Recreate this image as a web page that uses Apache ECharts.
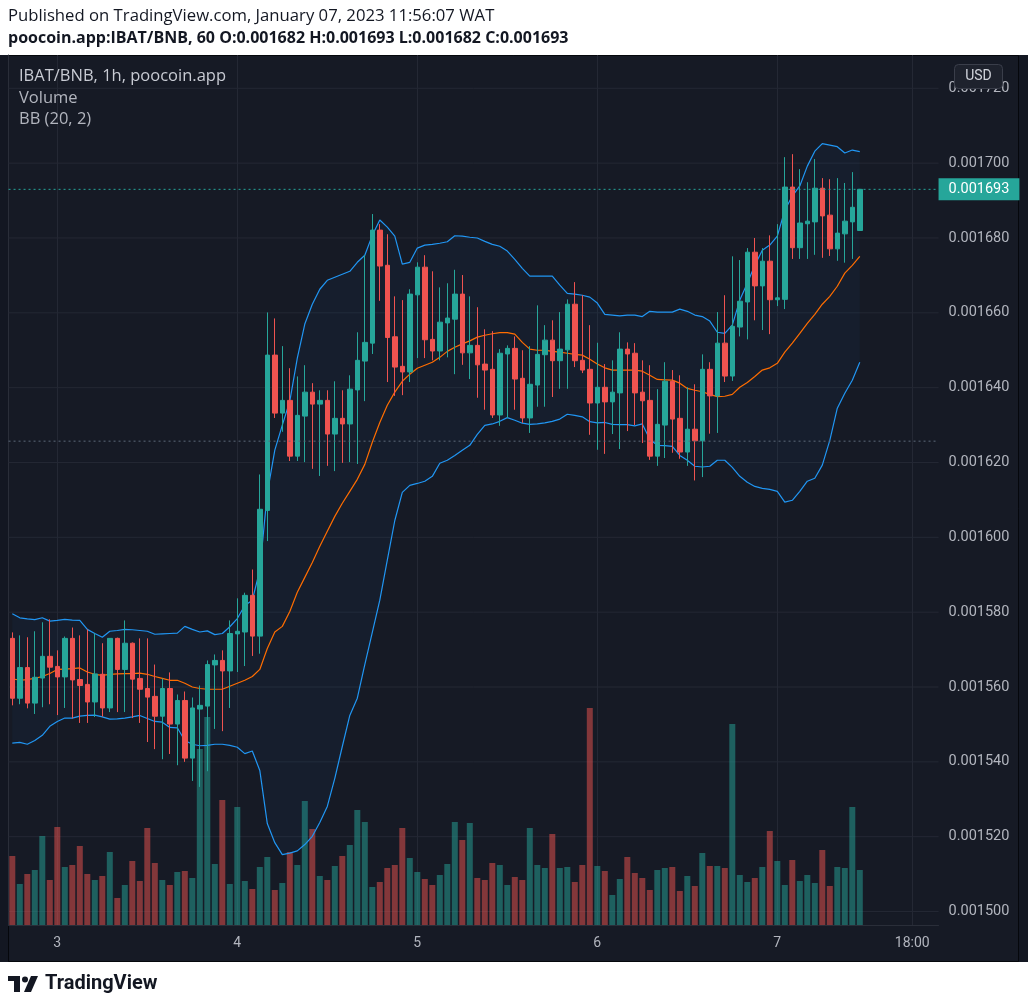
<!DOCTYPE html>
<html><head><meta charset="utf-8">
<script src="https://cdn.jsdelivr.net/npm/echarts@6/dist/echarts.min.js"></script>
<style>html,body{margin:0;padding:0;background:#fff}#c{width:1028px;height:1007px}</style>
</head><body><div id="c"></div>
<script>
// ---- data (BNB prices, hourly candles from Jan 2 18:00) ----
const opens = [
0.0015730,0.0015570,0.0015652,0.0015557,0.0015624,0.0015682,0.0015655,0.0015627,0.0015730,0.0015620,
0.0015607,0.0015560,0.0015634,0.0015544,0.0015730,0.0015647,0.0015717,0.0015623,0.0015596,0.0015575,
0.0015522,0.0015596,0.0015501,0.0015564,0.0015410,0.0015541,0.0015549,0.0015659,0.0015671,0.0015643,
0.0015742,0.0015747,0.0015845,0.0015736,0.0016072,0.0016487,0.0016332,0.0016366,0.0016217,0.0016324,
0.0016388,0.0016356,0.0016366,0.0016276,0.0016318,0.0016303,0.0016394,0.0016471,0.0016519,0.0016821,
0.0016727,0.0016536,0.0016457,0.0016442,0.0016648,0.0016722,0.0016529,0.0016498,0.0016573,0.0016583,
0.0016650,0.0016493,0.0016513,0.0016463,0.0016449,0.0016327,0.0016490,0.0016505,0.0016425,0.0016319,
0.0016407,0.0016488,0.0016527,0.0016472,0.0016501,0.0016623,0.0016473,0.0016449,0.0016359,0.0016401,
0.0016362,0.0016386,0.0016503,0.0016492,0.0016388,0.0016366,0.0016217,0.0016300,0.0016417,0.0016318,
0.0016228,0.0016289,0.0016258,0.0016449,0.0016378,0.0016519,0.0016431,0.0016562,0.0016629,0.0016762,
0.0016672,0.0016738,0.0016635,0.0016636,0.0016936,0.0016774,0.0016838,0.0016843,0.0016933,0.0016861,
0.0016771,0.0016811,0.0016843,0.0016820];
const closes = [
0.0015570,0.0015652,0.0015557,0.0015626,0.0015682,0.0015653,0.0015627,0.0015730,0.0015619,0.0015604,
0.0015560,0.0015635,0.0015544,0.0015730,0.0015647,0.0015717,0.0015621,0.0015594,0.0015573,0.0015522,
0.0015596,0.0015501,0.0015564,0.0015410,0.0015544,0.0015551,0.0015660,0.0015671,0.0015643,0.0015743,
0.0015749,0.0015845,0.0015736,0.0016075,0.0016487,0.0016332,0.0016366,0.0016217,0.0016326,0.0016388,
0.0016356,0.0016366,0.0016276,0.0016318,0.0016303,0.0016396,0.0016473,0.0016521,0.0016821,0.0016725,
0.0016534,0.0016455,0.0016442,0.0016650,0.0016722,0.0016528,0.0016498,0.0016575,0.0016586,0.0016650,
0.0016493,0.0016513,0.0016461,0.0016447,0.0016327,0.0016492,0.0016505,0.0016423,0.0016319,0.0016409,
0.0016489,0.0016527,0.0016472,0.0016503,0.0016623,0.0016472,0.0016447,0.0016359,0.0016401,0.0016362,
0.0016388,0.0016503,0.0016490,0.0016386,0.0016365,0.0016217,0.0016302,0.0016417,0.0016316,0.0016228,
0.0016289,0.0016258,0.0016449,0.0016378,0.0016519,0.0016431,0.0016564,0.0016631,0.0016762,0.0016672,
0.0016738,0.0016635,0.0016640,0.0016936,0.0016774,0.0016840,0.0016845,0.0016933,0.0016859,0.0016771,
0.0016813,0.0016845,0.0016882,0.0016930];
const highs = [
0.0015746,0.0015738,0.0015733,0.0015749,0.0015773,0.0015781,0.0015698,0.0015735,0.0015759,0.0015738,
0.0015754,0.0015743,0.0015717,0.0015730,0.0015732,0.0015778,0.0015719,0.0015730,0.0015730,0.0015660,
0.0015623,0.0015639,0.0015580,0.0015588,0.0015572,0.0015604,0.0015671,0.0015687,0.0015698,0.0015778,
0.0015837,0.0015852,0.0015914,0.0016168,0.0016601,0.0016585,0.0016511,0.0016452,0.0016430,0.0016460,
0.0016412,0.0016393,0.0016393,0.0016417,0.0016393,0.0016433,0.0016548,0.0016754,0.0016864,0.0016837,
0.0016810,0.0016644,0.0016634,0.0016663,0.0016735,0.0016754,0.0016711,0.0016668,0.0016679,0.0016715,
0.0016701,0.0016644,0.0016615,0.0016556,0.0016551,0.0016503,0.0016513,0.0016537,0.0016500,0.0016511,
0.0016620,0.0016567,0.0016580,0.0016602,0.0016636,0.0016682,0.0016647,0.0016567,0.0016520,0.0016463,
0.0016473,0.0016548,0.0016521,0.0016519,0.0016473,0.0016460,0.0016396,0.0016468,0.0016447,0.0016433,
0.0016401,0.0016409,0.0016489,0.0016468,0.0016602,0.0016647,0.0016751,0.0016741,0.0016773,0.0016800,
0.0016773,0.0016807,0.0016837,0.0017016,0.0017024,0.0016984,0.0016949,0.0017011,0.0016960,0.0016957,
0.0016960,0.0016947,0.0016976,0.0016930];
const lows = [
0.0015551,0.0015554,0.0015543,0.0015528,0.0015546,0.0015554,0.0015525,0.0015544,0.0015516,0.0015504,
0.0015504,0.0015520,0.0015521,0.0015533,0.0015533,0.0015533,0.0015517,0.0015504,0.0015453,0.0015434,
0.0015407,0.0015421,0.0015391,0.0015400,0.0015349,0.0015333,0.0015375,0.0015488,0.0015482,0.0015544,
0.0015640,0.0015656,0.0015683,0.0015689,0.0015990,0.0016319,0.0016282,0.0016204,0.0016204,0.0016201,
0.0016183,0.0016164,0.0016191,0.0016177,0.0016199,0.0016201,0.0016196,0.0016364,0.0016490,0.0016632,
0.0016415,0.0016378,0.0016380,0.0016415,0.0016479,0.0016479,0.0016473,0.0016473,0.0016481,0.0016436,
0.0016461,0.0016423,0.0016373,0.0016341,0.0016319,0.0016298,0.0016319,0.0016341,0.0016306,0.0016279,
0.0016349,0.0016349,0.0016375,0.0016397,0.0016397,0.0016455,0.0016439,0.0016274,0.0016234,0.0016223,
0.0016276,0.0016236,0.0016284,0.0016300,0.0016252,0.0016207,0.0016191,0.0016212,0.0016226,0.0016210,
0.0016191,0.0016152,0.0016161,0.0016277,0.0016279,0.0016415,0.0016418,0.0016537,0.0016529,0.0016580,
0.0016554,0.0016543,0.0016618,0.0016610,0.0016744,0.0016744,0.0016744,0.0016755,0.0016747,0.0016752,
0.0016739,0.0016734,0.0016744,0.0016820];
const volumes = [
207,123,153,165,267,135,294,174,180,237,153,135,147,219,81,120,192,132,291,186,
135,120,159,162,141,528,624,183,375,123,354,132,108,174,204,105,126,219,180,372,
288,147,135,177,207,240,345,309,114,129,171,180,291,201,159,138,120,150,183,309,
255,306,141,135,186,180,120,144,135,291,180,171,273,171,174,129,180,651,177,162,
90,138,204,156,141,105,165,171,174,102,147,117,216,177,177,171,603,150,129,141,
174,282,192,120,195,132,150,126,225,117,174,171,354,165];
const bbUpper = [
0.0015796,0.0015785,0.0015782,0.0015780,0.0015785,0.0015776,0.0015778,0.0015781,0.0015779,0.0015778,
0.0015754,0.0015743,0.0015733,0.0015749,0.0015751,0.0015754,0.0015753,0.0015751,0.0015749,0.0015741,
0.0015742,0.0015743,0.0015744,0.0015762,0.0015754,0.0015747,0.0015750,0.0015740,0.0015743,0.0015761,
0.0015783,0.0015818,0.0015832,0.0015912,0.0016118,0.0016233,0.0016300,0.0016364,0.0016479,0.0016570,
0.0016623,0.0016663,0.0016687,0.0016695,0.0016703,0.0016711,0.0016735,0.0016754,0.0016807,0.0016848,
0.0016829,0.0016805,0.0016730,0.0016735,0.0016773,0.0016781,0.0016783,0.0016786,0.0016790,0.0016806,
0.0016805,0.0016802,0.0016800,0.0016791,0.0016783,0.0016778,0.0016765,0.0016743,0.0016719,0.0016698,
0.0016698,0.0016698,0.0016698,0.0016674,0.0016652,0.0016650,0.0016647,0.0016642,0.0016626,0.0016596,
0.0016594,0.0016592,0.0016594,0.0016594,0.0016590,0.0016604,0.0016602,0.0016602,0.0016602,0.0016610,
0.0016604,0.0016594,0.0016590,0.0016578,0.0016548,0.0016545,0.0016567,0.0016634,0.0016679,0.0016727,
0.0016767,0.0016781,0.0016805,0.0016874,0.0016912,0.0016939,0.0016992,0.0017032,0.0017052,0.0017048,
0.0017044,0.0017027,0.0017035,0.0017031];
const bbBasis = [
0.0015622,0.0015618,0.0015620,0.0015623,0.0015628,0.0015636,0.0015647,0.0015648,0.0015649,0.0015651,
0.0015640,0.0015634,0.0015631,0.0015634,0.0015635,0.0015636,0.0015636,0.0015637,0.0015634,0.0015628,
0.0015623,0.0015618,0.0015618,0.0015610,0.0015600,0.0015596,0.0015594,0.0015594,0.0015594,0.0015602,
0.0015610,0.0015618,0.0015628,0.0015647,0.0015703,0.0015747,0.0015762,0.0015802,0.0015853,0.0015893,
0.0015933,0.0015976,0.0016016,0.0016056,0.0016091,0.0016123,0.0016155,0.0016195,0.0016254,0.0016307,
0.0016353,0.0016388,0.0016417,0.0016436,0.0016452,0.0016460,0.0016468,0.0016481,0.0016497,0.0016508,
0.0016517,0.0016525,0.0016535,0.0016540,0.0016544,0.0016547,0.0016547,0.0016543,0.0016521,0.0016503,
0.0016500,0.0016500,0.0016497,0.0016495,0.0016492,0.0016489,0.0016487,0.0016476,0.0016463,0.0016453,
0.0016447,0.0016447,0.0016447,0.0016447,0.0016444,0.0016433,0.0016422,0.0016421,0.0016420,0.0016412,
0.0016398,0.0016393,0.0016389,0.0016382,0.0016376,0.0016377,0.0016382,0.0016401,0.0016414,0.0016430,
0.0016447,0.0016453,0.0016465,0.0016495,0.0016519,0.0016545,0.0016572,0.0016596,0.0016623,0.0016644,
0.0016671,0.0016706,0.0016727,0.0016751];
const bbLower = [
0.0015450,0.0015452,0.0015447,0.0015457,0.0015471,0.0015495,0.0015508,0.0015517,0.0015517,0.0015522,
0.0015524,0.0015525,0.0015520,0.0015514,0.0015515,0.0015517,0.0015520,0.0015524,0.0015516,0.0015508,
0.0015506,0.0015492,0.0015491,0.0015457,0.0015447,0.0015443,0.0015444,0.0015447,0.0015447,0.0015444,
0.0015439,0.0015422,0.0015429,0.0015377,0.0015235,0.0015184,0.0015152,0.0015156,0.0015162,0.0015179,
0.0015201,0.0015238,0.0015281,0.0015356,0.0015441,0.0015524,0.0015570,0.0015660,0.0015746,0.0015832,
0.0015939,0.0016045,0.0016120,0.0016139,0.0016144,0.0016150,0.0016163,0.0016198,0.0016206,0.0016219,
0.0016233,0.0016246,0.0016275,0.0016299,0.0016303,0.0016310,0.0016320,0.0016313,0.0016305,0.0016302,
0.0016303,0.0016306,0.0016310,0.0016316,0.0016329,0.0016326,0.0016322,0.0016309,0.0016306,0.0016307,
0.0016302,0.0016301,0.0016301,0.0016298,0.0016303,0.0016262,0.0016246,0.0016245,0.0016243,0.0016219,
0.0016206,0.0016190,0.0016188,0.0016190,0.0016206,0.0016206,0.0016187,0.0016163,0.0016147,0.0016136,
0.0016131,0.0016128,0.0016123,0.0016094,0.0016099,0.0016123,0.0016150,0.0016158,0.0016193,0.0016259,
0.0016345,0.0016385,0.0016420,0.0016468];
const yTicks = [0.00150,0.00152,0.00154,0.00156,0.00158,0.00160,0.00162,0.00164,0.00166,0.00168,0.00170,0.00172];
const xTickCats = ['1/3 00:00','1/4 00:00','1/5 00:00','1/6 00:00','1/7 00:00','1/7 18:00'];
const xTickLabels = ['3','4','5','6','7','18:00'];
const lastPrice = 0.001693;
const refPrice = 0.0016257;

// hourly category slots (data + empty future slots up to the right edge)
const categories = [];
const t0 = Date.UTC(2023, 0, 2, 18);
for (let i = 0; i < 124; i++) {
  const d = new Date(t0 + i * 3600000);
  categories.push((d.getUTCMonth() + 1) + '/' + d.getUTCDate() + ' ' + String(d.getUTCHours()).padStart(2, '0') + ':00');
}

const candleData = opens.map((o, i) => [o, closes[i], lows[i], highs[i]]);
const volData = volumes.map((v, i) => ({
  value: v,
  itemStyle: { color: closes[i] >= opens[i] ? 'rgba(38,166,154,0.5)' : 'rgba(239,83,80,0.5)' }
}));
const bbWidth = bbUpper.map((u, i) => u - bbLower[i]);

const FONT = 'Roboto, "Open Sans", sans-serif';
const TFONT = '"Open Sans", Roboto, sans-serif';

// horizontal price grid lines (on a hidden 0..1 value x axis spanning the full grid width)
const priceGridSeries = yTicks.map(v => ({
  type: 'line', xAxisIndex: 2, yAxisIndex: 0, data: [[0, v], [1, v]], symbol: 'none', silent: true, z: 0,
  lineStyle: { color: '#242834', width: 1 },
  endLabel: { show: true, distance: 10, color: '#b2b5be', fontSize: 14.5, fontFamily: FONT, formatter: () => v.toFixed(6) }
}));

const chart = echarts.init(document.getElementById('c'));
chart.setOption({
  animation: false,
  backgroundColor: '#ffffff',
  grid: [
    { left: 8.55, right: 89.45, top: 55, bottom: 82 },
    { left: 8.55, right: 89.45, bottom: 82, height: 300 }
  ],
  xAxis: [
    { type: 'category', data: categories, gridIndex: 0, boundaryGap: true,
      axisLine: { show: true, lineStyle: { color: '#2a2e39' } },
      axisTick: { show: false },
      splitLine: { show: false },
      axisLabel: { color: '#b2b5be', fontSize: 14, fontFamily: FONT, margin: 11,
        interval: (i, v) => xTickCats.indexOf(v) >= 0,
        formatter: v => { const k = xTickCats.indexOf(v); return k >= 0 ? xTickLabels[k] : ''; } } },
    { type: 'category', data: categories, gridIndex: 1, boundaryGap: true, show: false },
    { type: 'value', gridIndex: 0, min: 0, max: 1, show: false, splitLine: { show: false } }
  ],
  yAxis: [
    { type: 'value', gridIndex: 0, position: 'right', min: 0.0014964, max: 0.0017289, scale: true,
      axisLine: { show: true, lineStyle: { color: '#2a2e39' } },
      axisTick: { show: false }, axisLabel: { show: false }, splitLine: { show: false } },
    { type: 'value', gridIndex: 1, min: 0, max: 900, show: false, splitLine: { show: false } }
  ],
  graphic: [
    { type: 'rect', z: -20, silent: true, shape: { x: 0, y: 55, width: 1028, height: 907 }, style: { fill: '#131722' } },
    { type: 'rect', z: -19, silent: true, shape: { x: 8.5, y: 55.5, width: 1010, height: 906 }, style: { fill: '#161a25', stroke: '#05070c', lineWidth: 1 } },
    { type: 'text', z: 50, style: { text: 'Published on TradingView.com, January 07, 2023 11:56:07 WAT', x: 8, y: 16, fill: '#131722', font: '16.7px ' + TFONT, textVerticalAlign: 'middle' } },
    { type: 'text', z: 50, style: { text: 'poocoin.app:IBAT/BNB, 60 O:0.001682 H:0.001693 L:0.001682 C:0.001693', x: 8, y: 38, fill: '#131722', font: 'bold 16px ' + TFONT, textVerticalAlign: 'middle' } },
    { type: 'text', z: 50, style: { text: 'IBAT/BNB, 1h, poocoin.app', x: 19, y: 76, fill: '#c8cbd3', font: '16.5px ' + TFONT, textVerticalAlign: 'middle' } },
    { type: 'text', z: 50, style: { text: 'Volume', x: 19, y: 98, fill: '#b2b5be', font: '16.5px ' + TFONT, textVerticalAlign: 'middle' } },
    { type: 'text', z: 50, style: { text: 'BB (20, 2)', x: 19, y: 119, fill: '#b2b5be', font: '16.5px ' + TFONT, textVerticalAlign: 'middle' } },
    { type: 'rect', z: 50, shape: { x: 954.5, y: 64.5, width: 48, height: 24, r: 4 }, style: { fill: '#1e222d', stroke: '#3a3e4a', lineWidth: 1 } },
    { type: 'text', z: 51, style: { text: 'USD', x: 978.5, y: 76.5, fill: '#d1d4dc', font: '14px ' + FONT, textAlign: 'center', textVerticalAlign: 'middle' } },
    { type: 'rect', z: 50, shape: { x: 8, y: 976, width: 12, height: 5 }, style: { fill: '#131722' } },
    { type: 'rect', z: 50, shape: { x: 14, y: 976, width: 6, height: 16 }, style: { fill: '#131722' } },
    { type: 'circle', z: 50, shape: { cx: 25, cy: 979.5, r: 3 }, style: { fill: '#131722' } },
    { type: 'polygon', z: 50, shape: { points: [[31, 976], [38, 976], [31, 992], [24, 992]] }, style: { fill: '#131722' } },
    { type: 'text', z: 50, style: { text: 'TradingView', x: 45, y: 984, fill: '#131722', font: 'bold 20px ' + FONT, textVerticalAlign: 'middle' } }
  ],
  series: priceGridSeries.concat([
    { name: 'Volume', type: 'bar', xAxisIndex: 1, yAxisIndex: 1, data: volData, barWidth: '80%', z: 1, silent: true },
    { name: 'BB lower', type: 'line', stack: 'bb', data: bbLower, symbol: 'none', z: 2, silent: true,
      lineStyle: { color: '#2196f3', width: 1.2 },
      markLine: { silent: true, z: 0, symbol: ['none', 'none'], animation: false,
        lineStyle: { color: '#242834', width: 1, type: 'solid' },
        label: { show: false },
        emphasis: { disabled: true },
        data: xTickCats.map(c => ({ xAxis: c })) } },
    { name: 'BB upper', type: 'line', stack: 'bb', data: bbWidth, symbol: 'none', z: 2, silent: true,
      lineStyle: { color: '#2196f3', width: 1.2 },
      areaStyle: { color: 'rgba(33,150,243,0.06)' } },
    { name: 'BB basis', type: 'line', data: bbBasis, symbol: 'none', z: 2, silent: true,
      lineStyle: { color: '#ff6d00', width: 1.2 } },
    { name: 'IBAT/BNB', type: 'candlestick', data: candleData, barWidth: 5, z: 3, silent: true,
      itemStyle: { color: '#26a69a', color0: '#ef5350', borderColor: '#26a69a', borderColor0: '#ef5350', borderWidth: 1 } },
    { name: 'ref line', type: 'line', xAxisIndex: 2, yAxisIndex: 0, data: [[0, refPrice], [1, refPrice]], symbol: 'none', silent: true, z: 4,
      lineStyle: { color: '#5d6a7a', width: 1, type: [2, 3] } },
    { name: 'last price', type: 'line', xAxisIndex: 2, yAxisIndex: 0, data: [[0, lastPrice], [1, lastPrice]], symbol: 'none', silent: true, z: 4,
      lineStyle: { color: '#26a69a', width: 1, type: [2, 3] },
      endLabel: { show: true, distance: 0, formatter: () => lastPrice.toFixed(6),
        backgroundColor: '#26a69a', color: '#ffffff', fontSize: 14.5, fontFamily: FONT, padding: [4, 10, 3, 10] } }
  ])
});
</script></body></html>
